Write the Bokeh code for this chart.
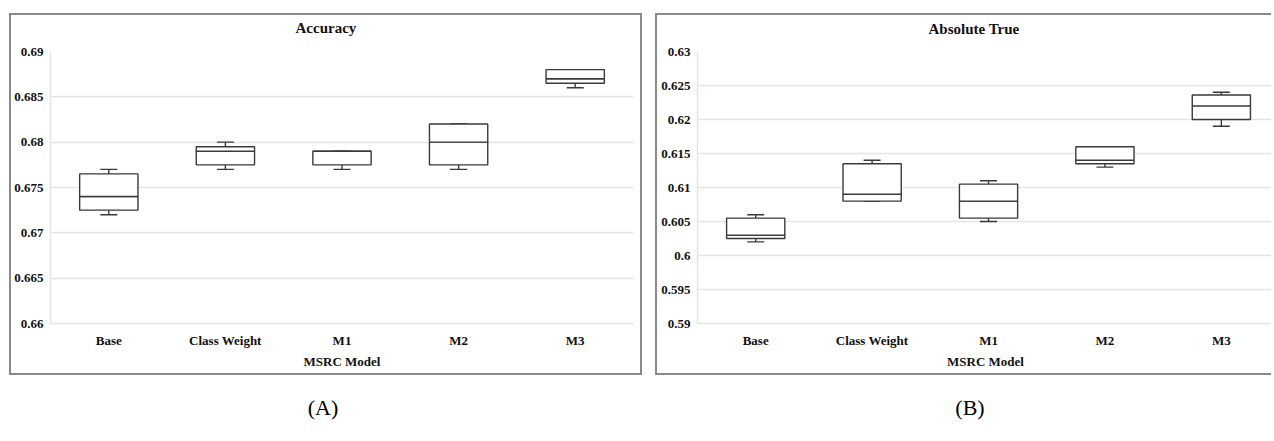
from bokeh.plotting import figure
from bokeh.layouts import column, row
from bokeh.models import (Range1d, FixedTicker, Spacer, Div, ColumnDataSource, Title,
                          Whisker, TeeHead, CustomJSTickFormatter)
from bokeh.embed import file_html
from bokeh.resources import INLINE

FONT = "Liberation Serif"

models = ["Base", "Class Weight", "M1", "M2", "M3"]

# Panel A: Accuracy
acc_lower = [0.672, 0.677, 0.677, 0.677, 0.686]
acc_q1 = [0.6725, 0.6775, 0.6775, 0.6775, 0.6865]
acc_median = [0.674, 0.679, 0.679, 0.680, 0.687]
acc_q3 = [0.6765, 0.6795, 0.679, 0.682, 0.688]
acc_upper = [0.677, 0.680, 0.679, 0.682, 0.688]
acc_ticks = [0.66, 0.665, 0.67, 0.675, 0.68, 0.685, 0.69]
acc_tick_labels = ["0.66", "0.665", "0.67", "0.675", "0.68", "0.685", "0.69"]

# Panel B: Absolute True
abs_lower = [0.602, 0.608, 0.605, 0.613, 0.619]
abs_q1 = [0.6025, 0.608, 0.6055, 0.6135, 0.620]
abs_median = [0.603, 0.609, 0.608, 0.614, 0.622]
abs_q3 = [0.6055, 0.6135, 0.6105, 0.616, 0.6236]
abs_upper = [0.606, 0.614, 0.611, 0.616, 0.624]
abs_ticks = [0.59, 0.595, 0.6, 0.605, 0.61, 0.615, 0.62, 0.625, 0.63]
abs_tick_labels = ["0.59", "0.595", "0.6", "0.605", "0.61", "0.615", "0.62", "0.625", "0.63"]

BOX_COLOR = "#3a3a3a"
GRID_COLOR = "#e4e4e4"
TEXT_COLOR = "#111111"
BORDER = "inset 0 0 0 2px #8a8a8a"


def make_panel(title_text, lower, q1, median, q3, upper, ticks, tick_labels,
               width, height, x_end, mb, title_offset, gap_standoff, styles):
    xs = [i + 0.5 for i in range(len(models))]
    src = ColumnDataSource(dict(x=xs, lower=lower, q1=q1, median=median, q3=q3, upper=upper))
    p = figure(width=width, height=height,
               x_range=Range1d(0, x_end), y_range=Range1d(ticks[0], ticks[-1]),
               output_backend="svg", toolbar_location=None,
               min_border_left=mb[0], min_border_right=mb[1],
               min_border_top=mb[2], min_border_bottom=mb[3],
               background_fill_color="white", border_fill_color=None,
               outline_line_color=None, styles=styles)

    # small blank gap between the frame and the title
    p.add_layout(Title(text=" ", text_font_size="4px", standoff=gap_standoff), "above")

    p.title.text = title_text
    p.title.align = "left"
    p.title.offset = title_offset
    p.title.standoff = 2
    p.title.text_font = FONT
    p.title.text_font_size = "15px"
    p.title.text_font_style = "bold"
    p.title.text_color = TEXT_COLOR

    p.yaxis.ticker = FixedTicker(ticks=ticks)
    p.yaxis.formatter = CustomJSTickFormatter(args=dict(tvals=ticks, labels=tick_labels), code="""
        let best = 0;
        for (let i = 0; i < tvals.length; i++) {
            if (Math.abs(tvals[i] - tick) < Math.abs(tvals[best] - tick)) { best = i; }
        }
        return labels[best];
    """)
    p.xaxis.ticker = FixedTicker(ticks=xs)
    p.xaxis.formatter = CustomJSTickFormatter(args=dict(labels=models),
                                              code="return labels[Math.round(tick - 0.5)];")

    for ax in (p.xaxis[0], p.yaxis[0]):
        ax.major_tick_line_color = None
        ax.minor_tick_line_color = None
        ax.major_tick_out = 0
        ax.major_tick_in = 0
        ax.minor_tick_out = 0
        ax.minor_tick_in = 0
        ax.major_label_text_font = FONT
        ax.major_label_text_font_style = "bold"
        ax.major_label_text_font_size = "13px"
        ax.major_label_text_color = TEXT_COLOR
        ax.axis_line_color = GRID_COLOR
        ax.axis_line_width = 1.5
    p.yaxis.major_label_standoff = 7
    p.xaxis.major_label_standoff = 9
    p.xaxis.axis_label = "MSRC Model"
    p.xaxis.axis_label_text_font = FONT
    p.xaxis.axis_label_text_font_style = "bold"
    p.xaxis.axis_label_text_font_size = "13px"
    p.xaxis.axis_label_text_color = TEXT_COLOR
    p.xaxis.axis_label_standoff = 3

    p.xgrid.grid_line_color = None
    p.ygrid.grid_line_color = GRID_COLOR
    p.ygrid.grid_line_width = 1.5

    line = dict(line_color=BOX_COLOR, line_width=1.4)
    p.add_layout(Whisker(base="x", lower="q3", upper="upper", source=src,
                         line_color=BOX_COLOR, line_width=1.4, lower_head=None,
                         upper_head=TeeHead(size=17, line_color=BOX_COLOR, line_width=1.4)))
    p.add_layout(Whisker(base="x", lower="lower", upper="q1", source=src,
                         line_color=BOX_COLOR, line_width=1.4, upper_head=None,
                         lower_head=TeeHead(size=17, line_color=BOX_COLOR, line_width=1.4)))
    p.vbar(x="x", width=0.5, bottom="q1", top="median", fill_color="white", source=src, **line)
    p.vbar(x="x", width=0.5, bottom="median", top="q3", fill_color="white", source=src, **line)
    return p


pA = make_panel("Accuracy", acc_lower, acc_q1, acc_median, acc_q3, acc_upper,
                acc_ticks, acc_tick_labels, width=633, height=362, x_end=5,
                mb=(41, 9, 36, 51), title_offset=245, gap_standoff=8,
                styles={"box-shadow": BORDER, "background": "white"})

pB = make_panel("Absolute True", abs_lower, abs_q1, abs_median, abs_q3, abs_upper,
                abs_ticks, abs_tick_labels, width=618, height=362, x_end=4.948,
                mb=(42, 0, 38, 52), title_offset=231, gap_standoff=7,
                styles={"box-shadow": BORDER, "background": "white",
                        "clip-path": "inset(0px 2px 0px 0px)"})

label_style = {"font-family": FONT, "font-size": "22px", "text-align": "center",
               "color": "#000000", "line-height": "26px"}
divA = Div(text="(A)", width=40, height=28, styles=label_style)
divB = Div(text="(B)", width=40, height=28, styles=label_style)

top = row(Spacer(width=9, height=362), pA, Spacer(width=13, height=362), pB)
labels = row(Spacer(width=298, height=28), divA, Spacer(width=597, height=28), divB)
layout = column(Spacer(width=10, height=13), top, Spacer(width=10, height=15), labels)

open("out.html", "w").write(file_html(layout, INLINE))
